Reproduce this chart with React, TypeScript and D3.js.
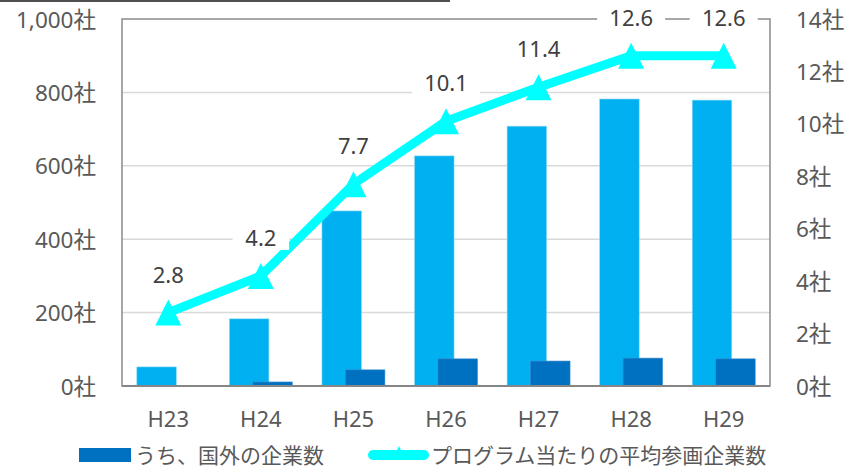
import React from "react";
import * as d3 from "d3";

const categories = ["H23", "H24", "H25", "H26", "H27", "H28", "H29"];
const totalCompanies = [52, 183, 477, 627, 708, 782, 779];
const overseasCompanies = [0, 11, 44, 74, 68, 76, 74];
const avgPerProgram = [2.8, 4.2, 7.7, 10.1, 11.4, 12.6, 12.6];
const leftTicks = [0, 200, 400, 600, 800, 1000];
const rightTicks = [0, 2, 4, 6, 8, 10, 12, 14];
const legendOverseas = "うち、国外の企業数";
const legendAvg = "プログラム当たりの平均参画企業数";

const W = 851;
const H = 469;
const FONT = "'Noto Sans', 'Noto Sans CJK JP', sans-serif";
const FONT_CJK = "'Noto Sans CJK JP', sans-serif";

export default function App() {
  const left = 122, right = 770, top = 19, bottom = 386;
  const x = d3.scaleBand<string>().domain(categories).range([left, right]).padding(0);
  const yL = d3.scaleLinear().domain([0, 1000]).range([bottom, top]);
  const yR = d3.scaleLinear().domain([0, 14]).range([bottom, top]);
  const bw = x.bandwidth();
  const barW = bw * 0.427;
  const groupW = bw * 0.68;
  const cx = (c: string) => (x(c) as number) + bw / 2;
  const fmt = d3.format(",");

  const line = d3
    .line<number>()
    .x((_, i) => cx(categories[i]))
    .y((d) => yR(d));

  const tri = "M0,-13L13,13L-13,13Z";
  const textCol = "#595959";

  return (
    <svg width={W} height={H} style={{ position: "absolute", left: 0, top: 0, background: "#fff" }} fontFamily={FONT}>
      <rect x={0} y={0} width={W} height={H} fill="#fff" />
      <line x1={0} x2={450} y1={1} y2={1} stroke="#505050" strokeWidth={2} />
      {/* gridlines */}
      {leftTicks.slice(1, -1).map((t) => (
        <line key={t} x1={left} x2={right} y1={yL(t)} y2={yL(t)} stroke="#d9d9d9" strokeWidth={1.5} />
      ))}
      {/* bars */}
      {categories.map((c, i) => (
        <rect
          key={"t" + c}
          x={cx(c) - groupW / 2}
          y={yL(totalCompanies[i])}
          width={barW}
          height={bottom - yL(totalCompanies[i])}
          fill="#00B0F0"
          stroke="#8fdaf7"
          strokeWidth={0.6}
        />
      ))}
      {categories.map((c, i) =>
        overseasCompanies[i] > 0 ? (
          <rect
            key={"o" + c}
            x={cx(c) + groupW / 2 - barW}
            y={yL(overseasCompanies[i])}
            width={barW}
            height={bottom - yL(overseasCompanies[i])}
            fill="#0070C0"
            stroke="#3b8fd0"
            strokeWidth={0.6}
          />
        ) : null
      )}
      {/* frame */}
      <rect x={left} y={top} width={right - left} height={bottom - top} fill="none" stroke="#8a8a8a" strokeWidth={1.5} />
      <line x1={left} x2={right} y1={bottom} y2={bottom} stroke="#868686" strokeWidth={2} />
      {/* line series */}
      <path d={line(avgPerProgram) || ""} fill="none" stroke="#00FFFF" strokeWidth={9} strokeLinejoin="round" />
      {avgPerProgram.map((v, i) => (
        <path key={"m" + i} d={tri} transform={`translate(${cx(categories[i])},${yR(v)})`} fill="#00FFFF" />
      ))}
      {/* data labels */}
      {avgPerProgram.map((v, i) => {
        const lx = cx(categories[i]);
        const ly = yR(v) - 39;
        const s = v.toFixed(1);
        const tw = s.length * 11.5 + 4;
        return (
          <g key={"l" + i}>
            <rect x={lx - tw / 2 - 9} y={ly - 13} width={tw + 18} height={26} fill="#fff" />
            <text x={lx} y={ly} textAnchor="middle" dominantBaseline="central" fontSize={22} fill="#404040">
              {s}
            </text>
          </g>
        );
      })}
      {/* left axis */}
      {leftTicks.map((t) => (
        <text key={"yl" + t} x={96} y={yL(t)} textAnchor="end" dominantBaseline="central" fontSize={22.5} fill={textCol}>
          {fmt(t) + "社"}
        </text>
      ))}
      {/* right axis */}
      {rightTicks.map((t) => (
        <text key={"yr" + t} x={796} y={yR(t)} textAnchor="start" dominantBaseline="central" fontSize={22.5} fill={textCol}>
          {t + "社"}
        </text>
      ))}
      {/* x axis */}
      {categories.map((c) => (
        <text key={"x" + c} x={cx(c)} y={418} textAnchor="middle" dominantBaseline="central" fontSize={22} fill={textCol}>
          {c}
        </text>
      ))}
      {/* legend */}
      <rect x={79} y={448} width={52} height={14} fill="#0070C0" />
      <text x={135} y={454} dominantBaseline="central" fontSize={21} fill={textCol} fontFamily={FONT_CJK}>
        {legendOverseas}
      </text>
      <line x1={373} x2={424} y1={455} y2={455} stroke="#00FFFF" strokeWidth={10} strokeLinecap="round" />
      <path d="M0,-7L7,7L-7,7Z" transform="translate(399,453)" fill="#00FFFF" />
      <text x={431} y={454} dominantBaseline="central" fontSize={21} fill={textCol} fontFamily={FONT_CJK}>
        {legendAvg}
      </text>
    </svg>
  );
}
